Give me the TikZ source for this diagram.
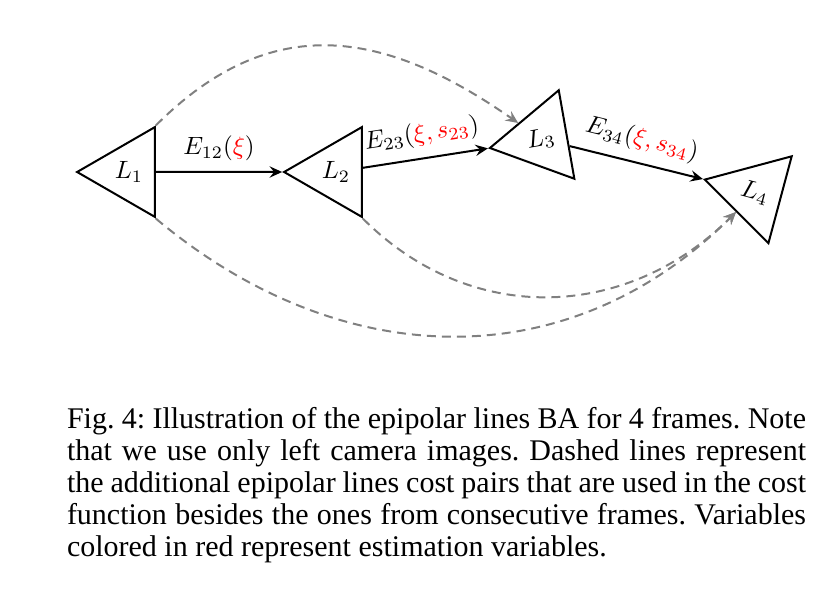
\documentclass[tikz,border=0pt]{standalone}
\usepackage{fontspec}
\setmainfont{Liberation Serif}
\usetikzlibrary{shapes.geometric, arrows.meta, positioning}

\begin{document}
\begin{tikzpicture}[
    x=0.4pt, y=0.4pt,
    line width=0.8pt,
    quadro/.style={draw, regular polygon, regular polygon sides=3, shape border rotate=90, inner sep=0pt, minimum size=41.5pt},
    seta/.style={-{Stealth[length=5pt, width=4.5pt, inset=1.8pt]}},
    extra/.style={seta, gray, dash pattern=on 3.6pt off 2.4pt},
    rotulo/.style={above, sloped, inner sep=4pt}
]
    \useasboundingbox (0,0) rectangle (831,-612);

    \node[quadro] (L1) at (129,-172) {$L_1$};
    \node[quadro] (L2) at (336,-172) {$L_2$};
    \node[quadro, rotate=10] (L3) at (541,-139) {$L_3$};
    \node[quadro, rotate=-15] (L4) at (755,-193) {$L_4$};

    \draw[seta] (L1) -- node[rotulo] {$E_{12}(\textcolor{red}{\xi})$} (L2.corner 1);
    \draw[seta] (L2) -- node[rotulo] {$E_{23}(\textcolor{red}{\xi, s_{23}})$} (L3.corner 1);
    \draw[seta] (L3) -- node[rotulo] {$E_{34}(\textcolor{red}{\xi, s_{34}})$} (L4.corner 1);

    % pares extras
    \draw[extra] (L1.60) to[out=45, in=145, looseness=1.15] (L3.135);
    \draw[extra] (L1.300) to[out=-40, in=225, looseness=1.05] (L4.240);
    \draw[extra] (L2.300) to[out=-45, in=225, looseness=1.05] (L4.240);

    \node[anchor=north west, text width=295.6pt, inner sep=0pt, align=justify,
        font=\fontsize{12}{12.8}\selectfont\frenchspacing] (legenda) at (66,-406)
        {Fig. 4: Illustration of the epipolar lines BA for 4 frames. Note\linebreak
        that we use only left camera images. Dashed lines represent\linebreak
        the additional epipolar lines cost pairs that are used in the cost\linebreak
        function besides the ones from consecutive frames. Variables\linebreak
        colored in red represent estimation variables.};
\end{tikzpicture}
\end{document}
